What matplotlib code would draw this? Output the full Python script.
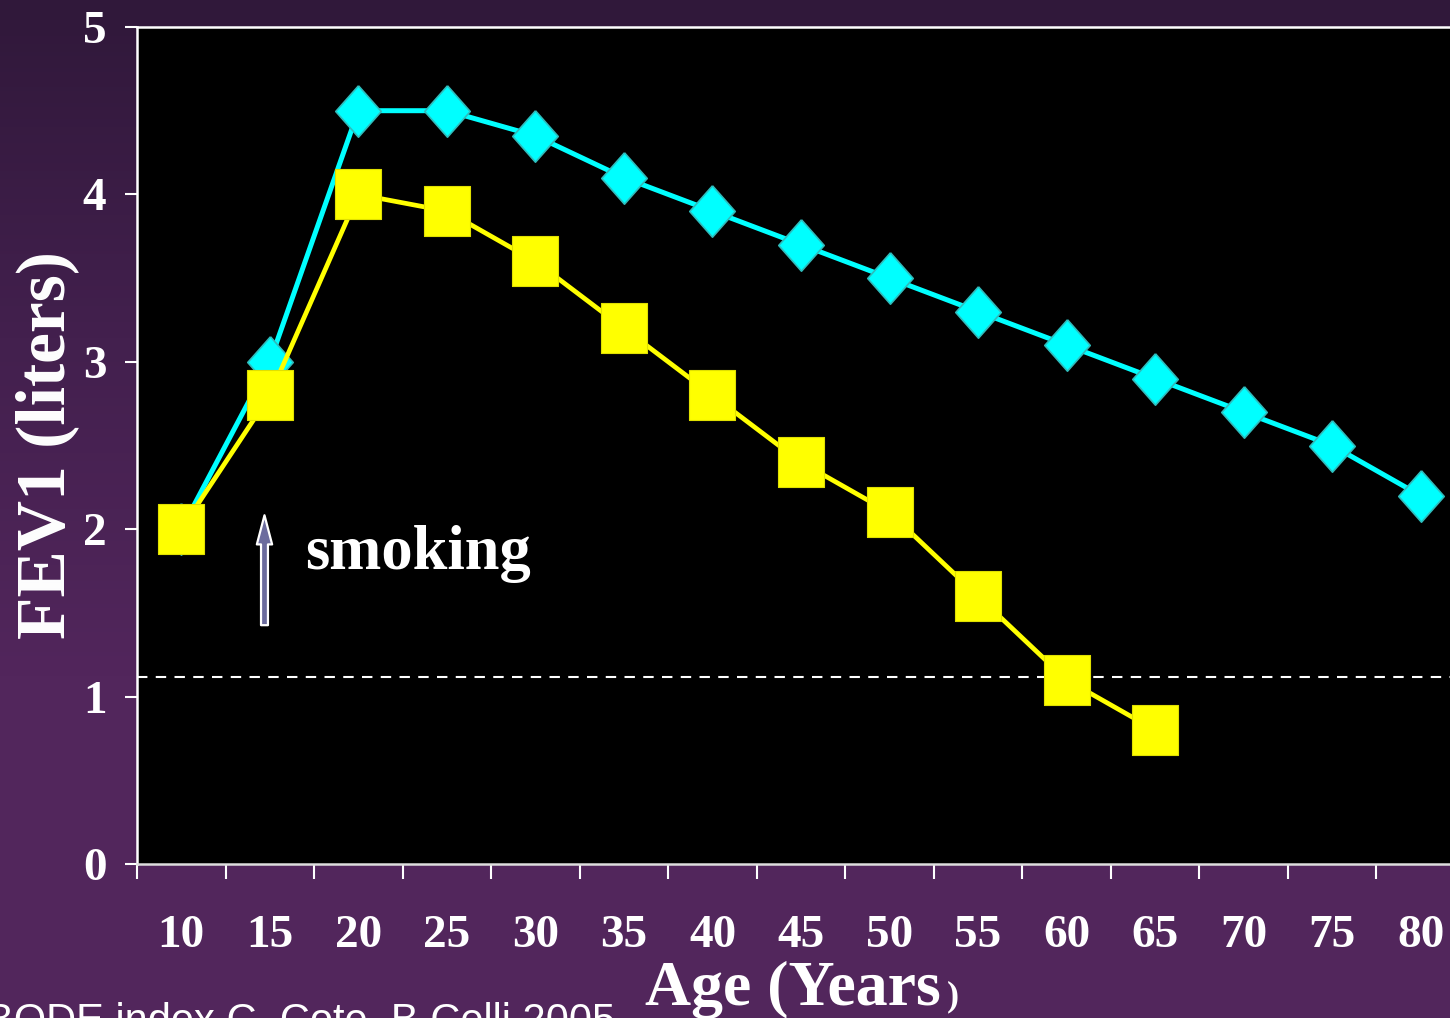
import numpy as np
import matplotlib
matplotlib.use("Agg")
import matplotlib.pyplot as plt
from matplotlib.colors import LinearSegmentedColormap
from matplotlib.patches import FancyArrowPatch, ArrowStyle

# FEV1 decline with age: non-smoker vs susceptible smoker
ages = [10, 15, 20, 25, 30, 35, 40, 45, 50, 55, 60, 65, 70, 75, 80]
never_smoker = [2.0, 3.0, 4.5, 4.5, 4.35, 4.1, 3.9, 3.7, 3.5, 3.3, 3.1, 2.9, 2.7, 2.5, 2.2]
smoker = [2.0, 2.8, 4.0, 3.9, 3.6, 3.2, 2.8, 2.4, 2.1, 1.6, 1.1, 0.8]
disability_level = 1.12
smoking_start = (15, 1.41, 2.1)   # age, arrow bottom, arrow top

serif = ["Liberation Serif", "DejaVu Serif"]

fig = plt.figure(figsize=(14.5, 10.18), dpi=100)

# purple gradient backdrop
bg = fig.add_axes([0, 0, 1, 1], zorder=-10)
cmap = LinearSegmentedColormap.from_list("bg", ["#30183a", "#43204e", "#52265c", "#52265c"])
grad = np.linspace(0, 1, 256).reshape(-1, 1)
bg.imshow(grad, aspect="auto", cmap=cmap, extent=[0, 1, 0, 1], origin="upper")
bg.set_axis_off()

ax = fig.add_axes([137 / 1450, 154 / 1018, 1328 / 1450, 837 / 1018])
ax.set_facecolor("black")

x_all = np.arange(len(ages))
x_sm = np.arange(len(smoker))

diamond = [(0, 1), (0.885, 0), (0, -1), (-0.885, 0), (0, 1)]
rect = [(-0.9, -1), (0.9, -1), (0.9, 1), (-0.9, 1), (-0.9, -1)]

ax.axhline(disability_level, color="white", lw=1.5, ls=(0, (5, 4)), zorder=1)
ax.plot(x_all, never_smoker, color="#00ffff", lw=3.6, marker=diamond, ms=37,
        mfc="#00ffff", mec="#2fbcbc", mew=1.2, zorder=2, solid_joinstyle="round")
ax.plot(x_sm, smoker, color="#ffff00", lw=3.4, marker=rect, ms=36.5,
        mfc="#ffff00", mec="#e0e000", mew=0.8, zorder=3, solid_joinstyle="round")

# smoking onset arrow
arr_x = ages.index(smoking_start[0]) - 0.06
arrow = FancyArrowPatch((arr_x, smoking_start[1]), (arr_x, smoking_start[2]),
                        arrowstyle=ArrowStyle.Simple(head_length=21, head_width=11, tail_width=5),
                        mutation_scale=1, fc="#6c6c9e", ec="white", lw=1.6, zorder=4)
ax.add_patch(arrow)
ax.text(1.4, 1.76, "smoking", color="white", fontsize=45, fontweight="bold",
        family=serif, va="baseline", ha="left", zorder=5)

ax.set_xlim(-0.5, len(ages) - 0.5)
ax.set_ylim(0, 5)

ax.set_xticks(x_all)
ax.set_xticklabels([str(a) for a in ages])
ax.set_xticks(np.arange(-0.5, len(ages), 1), minor=True)
ax.tick_params(axis="x", which="major", length=0, pad=37, labelsize=34, colors="white")
ax.tick_params(axis="x", which="minor", length=11, width=1.5, direction="out", color="white")
ax.set_yticks(range(6))
ax.tick_params(axis="y", length=9, width=1.5, direction="out", color="white",
               pad=13, labelsize=34, labelcolor="white")
for lab in ax.get_xticklabels() + ax.get_yticklabels():
    lab.set_family(serif)
    lab.set_fontweight("bold")

for side in ["left", "top", "bottom"]:
    ax.spines[side].set_color("white")
    ax.spines[side].set_linewidth(1.8)
ax.spines["bottom"].set_color("#dddddd")
ax.spines["right"].set_visible(False)

fig.text(47 / 1450, 1 - 445 / 1018, "FEV1 (liters)", rotation=90, color="white",
         fontsize=50, fontweight="bold", family=serif, ha="center", va="center")

fig.text(645 / 1450, 1 - 1005 / 1018, "Age (Years", color="white",
         fontsize=46, fontweight="bold", family=serif, ha="left", va="baseline")
fig.text(947 / 1450, 1 - 1005 / 1018, ")", color="white", fontsize=26,
         fontweight="bold", family=serif, ha="left", va="baseline")

fig.text(615 / 1450, 1 - 1033 / 1018, "BODE index C. Cote, B Celli 2005", color="white",
         fontsize=30, family=["Liberation Sans", "DejaVu Sans"], ha="right", va="baseline")

fig.savefig("out.png", dpi=100, facecolor=fig.get_facecolor())
